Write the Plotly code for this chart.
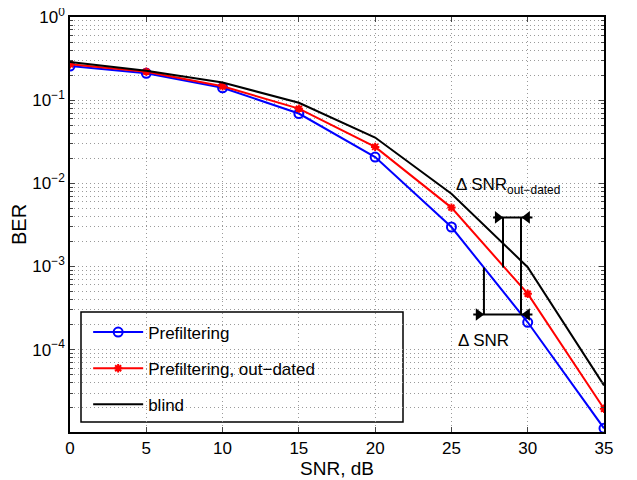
import numpy as np
import plotly.graph_objects as go

snr = [0, 5, 10, 15, 20, 25, 30, 35]
ber_prefilt = [0.257, 0.21, 0.141, 0.069, 0.0207, 0.00298, 2.13e-4, 1.13e-5]
ber_outdated = [0.27, 0.22, 0.147, 0.079, 0.0274, 0.0051, 4.7e-4, 1.94e-5]
ber_blind = [0.287, 0.225, 0.163, 0.093, 0.0355, 0.0075, 9.8e-4, 3.7e-5]

ytick_vals = [1e-4, 1e-3, 1e-2, 1e-1, 1]
ytick_text = ["10<sup>\u22124</sup>", "10<sup>\u22123</sup>", "10<sup>\u22122</sup>",
              "10<sup>\u22121</sup>", "10<sup>0</sup>"]
xtick_vals = [0, 5, 10, 15, 20, 25, 30, 35]

# annotation geometry (data coordinates)
xa_left_top, xa_right, xa_left_bot = 28.38, 29.56, 27.13
ya_top, ya_mid, ya_bot = 0.00389, 9.7e-4, 2.64e-4

font_family = "Liberation Sans, Arial, Helvetica, sans-serif"

fig = go.Figure()
fig.add_trace(go.Scatter(x=snr, y=ber_prefilt, mode="lines+markers", name="Prefiltering",
                         legendgroup="a",
                         line=dict(color="#0000ff", width=2),
                         marker=dict(symbol="circle-open", size=9, color="#0000ff",
                                     line=dict(width=2, color="#0000ff"))))
fig.add_trace(go.Scatter(x=snr, y=ber_outdated, mode="lines+markers", name="Prefiltering, out\u2212dated",
                         legendgroup="b",
                         line=dict(color="#ff0000", width=2),
                         marker=dict(symbol="asterisk-open", size=7, color="#ff0000",
                                     line=dict(width=2, color="#ff0000"))))
fig.add_trace(go.Scatter(x=snr, y=ber_blind, mode="lines", name="blind", legendgroup="c",
                         line=dict(color="#000000", width=2)))

# Delta SNR bracket lines
bl = dict(color="black", width=2)
for xs, ys in [
    ([xa_left_top, xa_left_top], [ya_top, ya_mid]),
    ([xa_right, xa_right], [ya_top, ya_bot]),
    ([xa_left_bot, xa_left_bot], [ya_mid, ya_bot]),
    ([xa_left_top - 0.65, xa_right + 0.75], [ya_top, ya_top]),
    ([xa_left_bot - 0.7, xa_right + 0.75], [ya_bot, ya_bot]),
]:
    fig.add_trace(go.Scatter(x=xs, y=ys, mode="lines", line=bl, showlegend=False, hoverinfo="skip"))

fig.add_trace(go.Scatter(x=[xa_left_top - 0.35, xa_left_bot - 0.35], y=[ya_top, ya_bot], mode="markers",
                         marker=dict(symbol="triangle-right", size=11, color="black"),
                         showlegend=False, hoverinfo="skip"))
fig.add_trace(go.Scatter(x=[xa_right + 0.4, xa_right + 0.4], y=[ya_top, ya_bot], mode="markers",
                         marker=dict(symbol="triangle-left", size=11, color="black"),
                         showlegend=False, hoverinfo="skip"))

fig.add_annotation(x=25.2, y=np.log10(0.0093), xref="x", yref="y", xanchor="left", yanchor="middle",
                   text="\u0394 SNR<sub>out\u2212dated</sub>", showarrow=False,
                   font=dict(family=font_family, size=17, color="black"))
fig.add_annotation(x=25.3, y=np.log10(1.3e-4), xref="x", yref="y", xanchor="left", yanchor="middle",
                   text="\u0394 SNR", showarrow=False,
                   font=dict(family=font_family, size=17, color="black"))

# legend frame
fig.add_shape(type="rect", xref="paper", yref="paper", x0=0.0206, x1=0.6236, y0=0.0241, y1=0.2892,
              fillcolor="white", line=dict(color="black", width=1.5), layer="below")

grid = dict(showgrid=True, gridcolor="#9a9a9a", gridwidth=1, griddash="1px,3px")

minor_vals = [m * 10.0 ** e for e in range(-5, 0) for m in range(2, 10)]

fig.update_layout(
    width=629, height=472,
    margin=dict(l=62, r=33, t=9, b=48),
    paper_bgcolor="white", plot_bgcolor="white",
    font=dict(family=font_family, size=17, color="black"),
    showlegend=True,
    legend=dict(x=0.034, y=0.283, xanchor="left", yanchor="top",
                bgcolor="rgba(0,0,0,0)", borderwidth=0,
                font=dict(size=17), tracegroupgap=11, itemwidth=50),
    xaxis=dict(range=[0, 35], tickvals=xtick_vals, ticks="inside", ticklen=5,
               showline=True, linecolor="black", linewidth=1.5, mirror="ticks",
               title=dict(text="SNR, dB", font=dict(size=19), standoff=2),
               tickfont=dict(size=17), zeroline=False, automargin=False,
               ticklabeloverflow="allow", **grid),
    yaxis=dict(type="log", range=[np.log10(1.02e-5), 0], tickmode="array",
               tickvals=ytick_vals, ticktext=ytick_text, ticks="inside", ticklen=5,
               showline=True, linecolor="black", linewidth=1.5, mirror="ticks",
               title=dict(text="BER", font=dict(size=20), standoff=6),
               tickfont=dict(size=17), zeroline=False, automargin=False,
               ticklabeloverflow="allow",
               minor=dict(tickmode="array", tickvals=minor_vals, ticks="inside", ticklen=3,
                          showgrid=True, gridcolor="#9a9a9a", griddash="1px,3px", gridwidth=1),
               **grid),
)

fig.write_html("out.html")
